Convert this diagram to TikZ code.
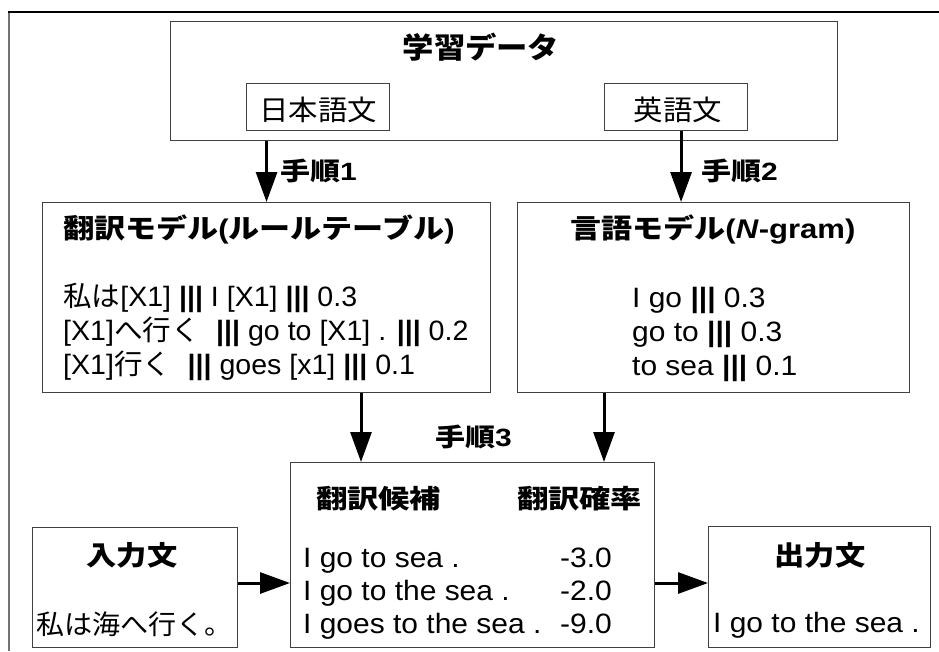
\documentclass[tikz,border=0pt]{standalone}
\usepackage{fontspec}
\setmainfont{Liberation Sans}
\newfontfamily\jp{Noto Sans CJK JP}
\usetikzlibrary{arrows.meta}
\newcommand\tx[3]{\fontsize{#1}{#1}\selectfont\scalebox{#2}[1]{#3}}
\begin{document}
\begin{tikzpicture}[x=1pt,y=-1pt,
  box/.style={draw=black!75, line width=1.1pt, inner sep=0pt, anchor=north west},
  t/.style={inner sep=0pt, anchor=base west},
  tc/.style={inner sep=0pt, anchor=base},
  te/.style={inner sep=0pt, anchor=base east},
  arr/.style={line width=3pt, -{Triangle[length=30pt,width=21pt]}}]
\useasboundingbox (0,0) rectangle (939,651);
% outer frame (clipped at right and bottom)
\draw[black!55, line width=2.5pt] (9,651) -- (9,12);
\draw[black, line width=1.5pt] (8,12) -- (939,12);
% boxes
\node[box, minimum width=667pt, minimum height=119pt] (data) at (170,21) {};
\node[box, minimum width=143pt, minimum height=47pt] (jp) at (246,83) {};
\node[box, minimum width=143pt, minimum height=47pt] (en) at (604,83) {};
\node[box, minimum width=448pt, minimum height=190pt] (tm) at (42,202) {};
\node[box, minimum width=392pt, minimum height=190pt] (lm) at (517,202) {};
\node[box, minimum width=364pt, minimum height=185pt] (cand) at (290,462) {};
\node[box, minimum width=205pt, minimum height=120pt] (inp) at (32,527) {};
\node[box, minimum width=222pt, minimum height=121pt] (out) at (708,526) {};
% texts in top box
\node[tc] (datat) at (481,58) {\tx{29}{1.08}{\jp\bfseries 学習データ}};
\node[tc] (jpt) at (318,120) {\tx{28}{1.05}{\jp 日本語文}};
\node[tc] (ent) at (678,120) {\tx{28}{1.05}{\jp 英語文}};
% step labels
\node[t] (s1) at (280,180) {\tx{25}{1.2}{\bfseries{\jp 手順}1}};
\node[t] (s2) at (701,180) {\tx{25}{1.2}{\bfseries{\jp 手順}2}};
\node[t] (s3) at (435,446) {\tx{25}{1.2}{\bfseries{\jp 手順}3}};
% translation model
\node[t] (tmh) at (63,238) {\tx{27}{1.15}{\bfseries{\jp 翻訳モデル}({\jp ルールテーブル})}};
\node[t] (tm1) at (63,306) {\tx{28}{1.02}{{\jp 私は}[X1] {\bfseries|||} I [X1] {\bfseries|||} 0.3}};
\node[t] (tm2) at (63,340) {\tx{28}{1.02}{[X1]{\jp へ行く}\hspace{0.3em} {\bfseries|||} go to [X1] . {\bfseries|||} 0.2}};
\node[t] (tm3) at (63,374) {\tx{28}{1.02}{[X1]{\jp 行く}\hspace{0.3em} {\bfseries|||} goes [x1] {\bfseries|||} 0.1}};
% language model
\node[t] (lmh) at (570,238) {\tx{27}{1.15}{\bfseries{\jp 言語モデル}(\textit{N}-gram)}};
\node[t] (lm1) at (632,307) {\tx{28}{1.07}{I go {\bfseries|||} 0.3}};
\node[t] (lm2) at (632,341) {\tx{28}{1.07}{go to {\bfseries|||} 0.3}};
\node[t] (lm3) at (632,375) {\tx{28}{1.07}{to sea {\bfseries|||} 0.1}};
% candidates
\node[t] (ch1) at (316,508) {\tx{26}{1.2}{\jp\bfseries 翻訳候補}};
\node[t] (ch2) at (517,508) {\tx{26}{1.2}{\jp\bfseries 翻訳確率}};
\node[t] (c1) at (303,567) {\tx{28}{1.07}{I go to sea .}};
\node[t] (c2) at (303,600) {\tx{28}{1.07}{I go to the sea .}};
\node[t] (c3) at (303,633) {\tx{28}{1.07}{I goes to the sea .}};
\node[te] (p1) at (612,567) {\tx{28}{1.07}{-3.0}};
\node[te] (p2) at (612,600) {\tx{28}{1.07}{-2.0}};
\node[te] (p3) at (612,633) {\tx{28}{1.07}{-9.0}};
% input / output
\node[tc] (inh) at (132,565) {\tx{27}{1.12}{\jp\bfseries 入力文}};
\node[t] (inx) at (36,634) {\tx{27}{1.04}{\jp 私は海へ行く。}};
\node[tc] (outh) at (820,565) {\tx{27}{1.12}{\jp\bfseries 出力文}};
\node[t] (outx) at (713,632) {\tx{28}{1.07}{I go to the sea .}};
% arrows
\draw[arr] (data.south -| tm.north) -- (tm.north);
\draw[arr] ([xshift=5pt]en.south) -- ([xshift=5pt]en.south |- lm.north);
\draw[arr] (tm.south -| 361,0) -- (cand.north -| 361,0);
\draw[arr] (lm.south -| 604,0) -- (cand.north -| 604,0);
\draw[arr] (inp.east |- 0,583) -- (cand.west |- 0,583);
\draw[arr] (cand.east |- 0,583) -- (out.west |- 0,583);
\end{tikzpicture}
\end{document}
